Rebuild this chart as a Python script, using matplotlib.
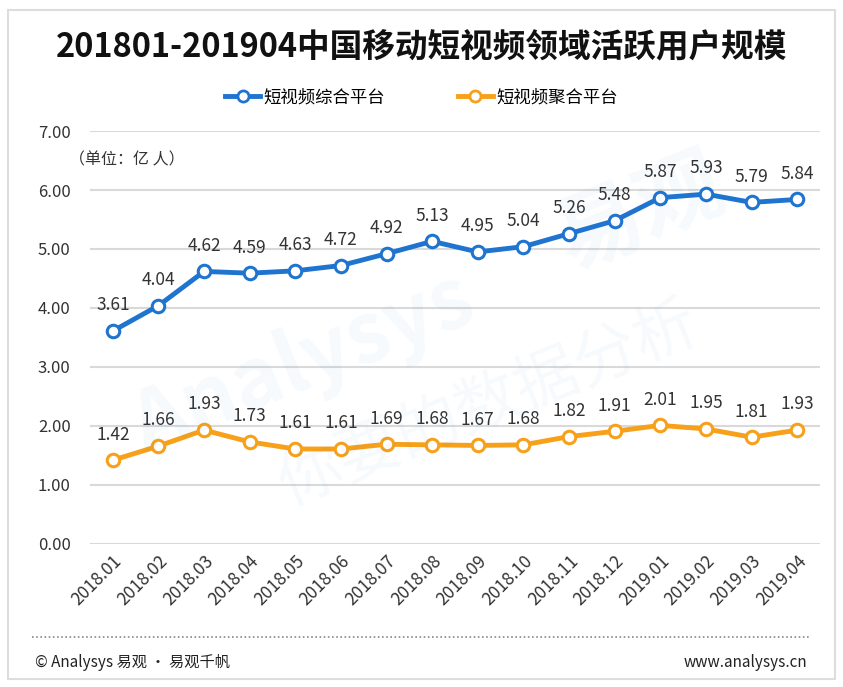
import matplotlib.pyplot as plt
from matplotlib.lines import Line2D
from matplotlib.patches import Rectangle

plt.rcParams['font.family'] = ['Noto Sans CJK SC', 'DejaVu Sans']

months = ['2018.01', '2018.02', '2018.03', '2018.04', '2018.05', '2018.06',
          '2018.07', '2018.08', '2018.09', '2018.10', '2018.11', '2018.12',
          '2019.01', '2019.02', '2019.03', '2019.04']
zonghe = [3.61, 4.04, 4.62, 4.59, 4.63, 4.72, 4.92, 5.13,
          4.95, 5.04, 5.26, 5.48, 5.87, 5.93, 5.79, 5.84]
juhe = [1.42, 1.66, 1.93, 1.73, 1.61, 1.61, 1.69, 1.68,
        1.67, 1.68, 1.82, 1.91, 2.01, 1.95, 1.81, 1.93]
series_names = ['短视频综合平台', '短视频聚合平台']

blue = '#1f74cf'
orange = '#f7a01a'

fig = plt.figure(figsize=(8.43, 6.87), dpi=100)
ax = fig.add_axes([0.1068, 0.2082, 0.8659, 0.6011])

# faint watermark
fig.text(0.36, 0.47, 'Analysys', fontsize=60, color='#1f74cf', alpha=0.04,
         rotation=22, ha='center', va='center', fontweight='bold')
fig.text(0.76, 0.69, '易观', fontsize=62, color='#1f74cf', alpha=0.04,
         rotation=22, ha='center', va='center', fontweight='bold')
fig.text(0.58, 0.41, '你要的数据分析', fontsize=46, color='#1f74cf', alpha=0.035,
         rotation=22, ha='center', va='center')

x = range(len(months))
ax.plot(x, zonghe, color=blue, lw=3.5, marker='o', ms=9, mfc='white',
        mec=blue, mew=2.2, zorder=3)
ax.plot(x, juhe, color=orange, lw=3.5, marker='o', ms=9, mfc='white',
        mec=orange, mew=2.2, zorder=3)

for i, v in enumerate(zonghe):
    ax.annotate(f'{v:.2f}', (i, v), xytext=(0, 12), textcoords='offset points',
                ha='center', va='bottom', fontsize=12.5, color='#333333')
for i, v in enumerate(juhe):
    ax.annotate(f'{v:.2f}', (i, v), xytext=(0, 12), textcoords='offset points',
                ha='center', va='bottom', fontsize=12.5, color='#333333')

ax.set_xlim(-0.5, len(months) - 0.5)
ax.set_ylim(0, 7)
ax.set_yticks(range(8))
ax.set_yticklabels([f'{v:.2f}' for v in range(8)], fontsize=12, color='#333333')
ax.set_xticks(list(x))
ax.set_xticklabels(months, rotation=45, ha='right', rotation_mode='anchor',
                   fontsize=12.5, color='#333333')
ax.grid(axis='y', color='#d9d9d9', lw=1.5)
ax.set_axisbelow(True)
ax.tick_params(length=0, pad=6)
for s in ax.spines.values():
    s.set_visible(False)
ax.tick_params(axis='y', pad=14)

fig.text(0.5, 0.93, '201801-201904中国移动短视频领域活跃用户规模', fontsize=23.5,
         fontweight='bold', ha='center', va='center', color='#111111')
fig.text(0.082, 0.767, '（单位：亿 人）', fontsize=11.5, color='#333333',
         ha='left', va='center')

handles = [Line2D([], [], color=blue, lw=3.5, marker='o', ms=8, mfc='white',
                  mec=blue, mew=2),
           Line2D([], [], color=orange, lw=3.5, marker='o', ms=8, mfc='white',
                  mec=orange, mew=2)]
fig.legend(handles, series_names, loc='center', bbox_to_anchor=(0.5, 0.858),
           ncol=2, frameon=False, fontsize=12.5, handlelength=2.0,
           handletextpad=0.2, columnspacing=4.2)

# footer
fig.add_artist(Line2D([0.038, 0.962], [0.073, 0.073], color='#888888',
                      lw=1.2, ls=(0, (1, 1.5)), transform=fig.transFigure))
fig.text(0.042, 0.036, '© Analysys 易观 · 易观千帆', fontsize=11,
         color='#222222', ha='left', va='center')
fig.text(0.958, 0.036, 'www.analysys.cn', fontsize=11, color='#222222',
         ha='right', va='center')
fig.add_artist(Rectangle((0.009, 0.011), 0.982, 0.975, fill=False,
                         ec='#dddddd', lw=1.5, transform=fig.transFigure))

plt.savefig('out.png', dpi=100)
